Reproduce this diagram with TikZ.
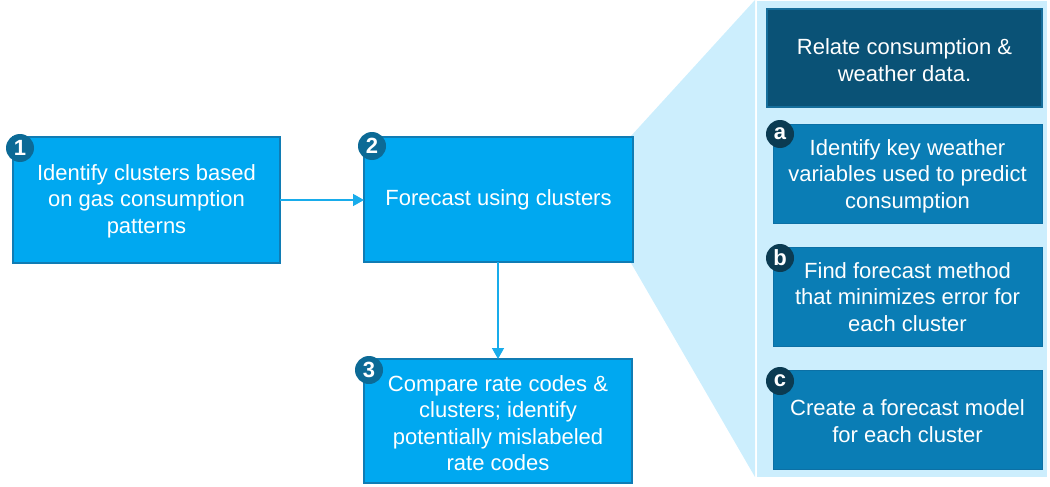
\documentclass[tikz,border=0pt]{standalone}
\usepackage{fontspec}
\setmainfont{Liberation Sans}
\usetikzlibrary{arrows.meta}
\definecolor{boxfill}{RGB}{0,168,240}
\definecolor{boxedge}{RGB}{16,124,180}
\definecolor{panelfill}{RGB}{204,238,253}
\definecolor{headfill}{RGB}{10,82,118}
\definecolor{headedge}{RGB}{22,110,155}
\definecolor{subfill}{RGB}{10,125,181}
\definecolor{subedge}{RGB}{12,112,165}
\definecolor{badgeA}{RGB}{12,106,150}
\definecolor{badgeB}{RGB}{11,59,82}
\definecolor{arrowcol}{RGB}{24,172,235}
\begin{document}
\begin{tikzpicture}[x=1pt,y=-1pt,
  txt/.style={text=white,font=\fontsize{22}{26.5}\selectfont,align=center},
  mainbox/.style={fill=boxfill,draw=boxedge,line width=1.8pt},
  headbox/.style={fill=headfill,draw=headedge,line width=1.5pt},
  subbox/.style={fill=subfill,draw=subedge,line width=1pt},
  badge1/.style={circle,fill=badgeA,minimum size=28pt,inner sep=0pt,text=white,font=\fontsize{22}{22}\selectfont\bfseries},
  badge2/.style={circle,fill=badgeB,minimum size=28pt,inner sep=0pt,text=white,font=\fontsize{22}{22}\selectfont\bfseries},
  conn/.style={draw=arrowcol,line width=1.5pt,-{Triangle[length=11pt,width=12pt]}}
]
\useasboundingbox (0,0) rectangle (1050,487);
% funnel and panel
\fill[panelfill] (631,136) -- (755,0) -- (755,477) -- (631,263) -- cycle;
\fill[panelfill] (757,1) rectangle (1047,477);
% main boxes
\draw[mainbox] (13,137) rectangle (280,263);
\node[txt] (t1) at (146.5,201) {Identify clusters based\\on gas consumption\\patterns};
\draw[mainbox] (364,137) rectangle (633,262);
\node[txt] (t2) at (498.5,200) {Forecast using clusters};
\draw[mainbox] (364,359) rectangle (632,483);
\node[txt] (t3) at (498,423) {Compare rate codes \&\\clusters; identify\\potentially mislabeled\\rate codes};
\coordinate (b1r) at (280,200);
\coordinate (b2l) at (364,200);
\coordinate (b2b) at (498,262);
\coordinate (b3t) at (498,359);
\draw[conn] (b1r) -- (b2l);
\draw[conn] (b2b) -- (b3t);
% badges
\node[badge1] (n1) at (20,148) {1};
\node[badge1] (n2) at (372,146) {2};
\node[badge1] (n3) at (369,370) {3};
% right side boxes
\draw[headbox] (767,9) rectangle (1042,107);
\node[txt] (th) at (904.5,60) {Relate consumption \&\\weather data.};
\draw[subbox] (773,124) rectangle (1042,223);
\node[txt] (ta) at (907.5,176) {Identify key weather\\variables used to predict\\consumption};
\draw[subbox] (773,247) rectangle (1042,346);
\node[txt] (tb) at (907.5,297) {Find forecast method\\that minimizes error for\\each cluster};
\draw[subbox] (773,370) rectangle (1042,469);
\node[txt] (tc) at (907.5,421) {Create a forecast model\\for each cluster};
\node[badge2] (na) at (780,134) {a};
\node[badge2] (nb) at (780,258) {b};
\node[badge2] (nc) at (780,381) {c};
\end{tikzpicture}
\end{document}
